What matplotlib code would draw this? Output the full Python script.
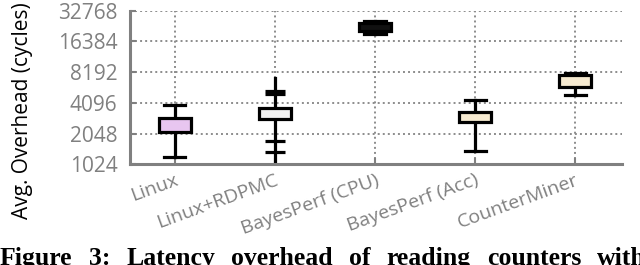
import numpy as np
import matplotlib
matplotlib.use('Agg')
import matplotlib.pyplot as plt

# per-method latency stats (cycles)
methods = ['Linux', 'Linux+RDPMC', 'BayesPerf (CPU)', 'BayesPerf (Acc)', 'CounterMiner']
whislo = [1215, 1030, 19400, 1385, 4900]
q1 = [2140, 2830, 20900, 2640, 5910]
med = [2530, 3240, 22700, 3000, 6760]
q3 = [2930, 3680, 24700, 3360, 7690]
whishi = [3910, 7140, 26200, 4370, 7960]
fliers = [[], [1360, 1735, 5000, 5300], [], [], []]
fill_colors = ['#e8c6f0', '#f2f2f2', '#111111', '#f6ead0', '#f6ead0']

yticks = [1024, 2048, 4096, 8192, 16384, 32768]
caption = 'Figure 3: Latency overhead of reading counters with'

GRAY = '#808080'

plt.rcParams['font.family'] = ['Open Sans', 'DejaVu Sans']

fig = plt.figure(figsize=(6.4, 2.65), dpi=100)
ax = fig.add_axes([0.203, 0.380, 0.769, 0.580])

stats = []
for i, name in enumerate(methods):
    stats.append(dict(label=name, whislo=whislo[i], q1=q1[i], med=med[i],
                      q3=q3[i], whishi=whishi[i], fliers=fliers[i]))

positions = np.arange(len(methods))
bp = ax.bxp(stats, positions=positions, widths=0.32, patch_artist=True,
            showfliers=True, capwidths=0.21,
            boxprops=dict(edgecolor='black', linewidth=2.3),
            whiskerprops=dict(color='black', linewidth=2.3),
            capprops=dict(color='black', linewidth=2.3),
            medianprops=dict(color='black', linewidth=1.8),
            flierprops=dict(marker='_', markersize=15, markeredgewidth=2.3,
                            markeredgecolor='black'))
for patch, c in zip(bp['boxes'], fill_colors):
    patch.set_facecolor(c)
    patch.set_zorder(3)
# no caps on RDPMC whiskers
bp['caps'][2].set_visible(False)
bp['caps'][3].set_visible(False)

ax.set_yscale('log', base=2)
ax.set_ylim(1024, 32768)
ax.set_yticks(yticks)
ax.set_yticklabels([str(v) for v in yticks])
ax.minorticks_off()
ax.set_xlim(-0.45, 4.47)
ax.set_xticks(positions)
ax.set_xticklabels(methods, rotation=20, ha='right', rotation_mode='anchor')

ax.set_axisbelow(True)
ax.grid(True, color='#8c8c8c', linestyle=(0, (1, 1.6)), linewidth=1.4)

for s in ['top', 'right']:
    ax.spines[s].set_visible(False)
for s in ['left', 'bottom']:
    ax.spines[s].set_color(GRAY)
    ax.spines[s].set_linewidth(2.2)

ax.tick_params(axis='both', direction='in', color=GRAY, width=1.5, length=4,
               labelcolor=GRAY)
ax.tick_params(axis='y', pad=9, labelsize=15)
ax.tick_params(axis='x', pad=5, labelsize=14)

ax.set_ylabel('Avg. Overhead (cycles)', fontsize=15, color='black')
ax.yaxis.set_label_coords(-0.197, 0.35)

# caption, justified across the full width like the paper layout
words = caption.split()
texts = [fig.text(0, 1 - 247 / 265, w, family=['Liberation Serif', 'DejaVu Serif'],
                  fontweight='bold', fontsize=18.5, va='top', ha='left')
         for w in words]
fig.canvas.draw()
r = fig.canvas.get_renderer()
widths = [t.get_window_extent(r).width for t in texts]
total = 646
gap = (total - sum(widths)) / (len(words) - 1)
x = 0
for t, w in zip(texts, widths):
    t.set_x(x / 640)
    x += w + gap

fig.savefig('out.png', dpi=100)
